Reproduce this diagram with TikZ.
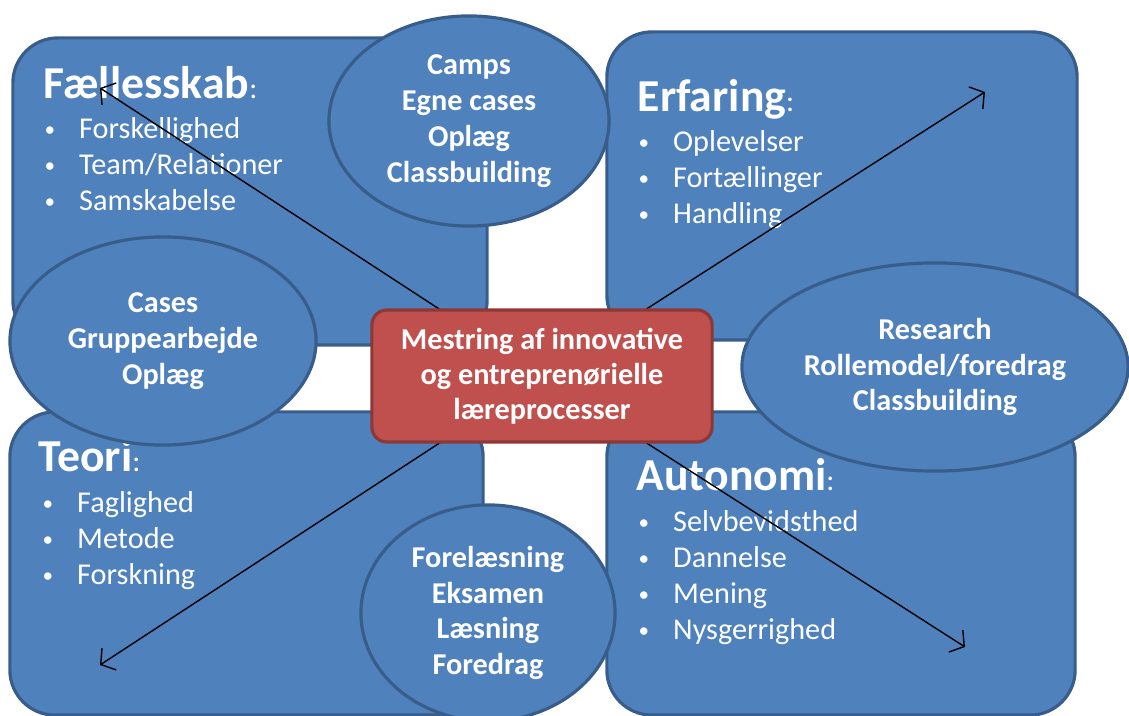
\documentclass[tikz,border=0pt]{standalone}
\usepackage{fontspec}
\setmainfont{Carlito}
\usepackage{xcolor}
\usepackage{tikz}
\usetikzlibrary{shapes.geometric,arrows.meta}
\definecolor{areablue}{HTML}{4F81BD}
\definecolor{areaedge}{HTML}{385D8A}
\definecolor{corered}{HTML}{C0504D}
\definecolor{coreedge}{HTML}{8C3836}
\newcommand{\dotitem}[1]{\makebox[0.345cm][l]{\raisebox{0.2ex}{\fontsize{6}{6}\selectfont\textbullet}}#1}
\newcommand{\smallcolon}{\textnormal{\fontsize{8.6}{10}\selectfont:}}

\begin{document}
\begin{tikzpicture}[x=0.01cm,y=-0.01cm,
  area/.style={draw=areaedge,fill=areablue,line width=0.9pt,rounded corners=0.45cm,inner sep=0pt},
  blob/.style={ellipse,draw=areaedge,fill=areablue,line width=0.9pt,inner sep=0pt,text=white,align=center,font=\fontsize{8.6}{10.2}\selectfont\bfseries},
  head/.style={anchor=base west,inner sep=0pt,text=white,font=\fontsize{13}{15}\selectfont\bfseries},
  item/.style={anchor=base west,inner sep=0pt,text=white,font=\fontsize{8.6}{10}\selectfont},
  link/.style={-{Straight Barb[length=1mm,width=2.6mm]},line width=0.4pt}]

\clip (0,0) rectangle (1129,716);

\node[area,minimum width=4.74cm,minimum height=3.07cm] (faelles) at (250,191.5) {};
\node[area,minimum width=4.70cm,minimum height=3.08cm] (erfaring) at (842,186) {};
\node[area,minimum width=4.73cm,minimum height=3.03cm] (teori) at (246.5,563.5) {};
\node[area,minimum width=4.68cm,minimum height=3.03cm] (autonomi) at (841,563.5) {};

\node[head] (faellesh) at (43,99) {Fællesskab\smallcolon};
\foreach \t [count=\i] in {Forskellighed,Team/Relationer,Samskabelse}
  \node[item] (faelles\i) at (44,{139+36*(\i-1)}) {\dotitem{\t}};

\node[head] (erfaringh) at (637,112) {Erfaring\smallcolon};
\foreach \t [count=\i] in {Oplevelser,Fortællinger,Handling}
  \node[item] (erfaring\i) at (638,{152+36*(\i-1)}) {\dotitem{\t}};

\node[head] (teorih) at (38,472) {Teori\smallcolon};
\foreach \t [count=\i] in {Faglighed,Metode,Forskning}
  \node[item] (teori\i) at (42,{513+36*(\i-1)}) {\dotitem{\t}};

\node[head] (autonomih) at (636,491) {Autonomi\smallcolon};
\foreach \t [count=\i] in {Selvbevidsthed,Dannelse,Mening,Nysgerrighed}
  \node[item] (autonomi\i) at (638,{532+36*(\i-1)}) {\dotitem{\t}};

\node[blob,minimum width=2.80cm,minimum height=2.10cm] (camps) at (469,121) {Camps\\Egne cases\\Oplæg\\Classbuilding};
\node[blob,minimum width=3.06cm,minimum height=2.08cm] (cases) at (163,341) {Cases\\Gruppearbejde\\Oplæg};
\node[blob,minimum width=3.86cm,minimum height=2.08cm] (research) at (935,367) {Research\\Rollemodel/foredrag\\Classbuilding};
\node[blob,minimum width=2.54cm,minimum height=2.16cm] (forelaes) at (488,613) {Forelæsning\\Eksamen\\Læsning\\Foredrag};

\coordinate (mid) at (542,376);
\coordinate (tl) at (100,88);
\coordinate (tr) at (985,92);
\coordinate (bl) at (100,665);
\coordinate (br) at (965,647);
\draw[link] (mid) -- (tl);
\draw[link] (mid) -- (tr);
\draw[link] (mid) -- (bl);
\draw[link] (mid) -- (br);

\node[draw=coreedge,fill=corered,line width=0.9pt,rounded corners=0.15cm,minimum width=3.40cm,minimum height=1.32cm,inner sep=0pt,
  text=white,align=center,font=\fontsize{8.6}{10}\selectfont\bfseries] (core) at (mid)
  {Mestring af innovative\\og entreprenørielle\\læreprocesser};

\end{tikzpicture}
\end{document}
